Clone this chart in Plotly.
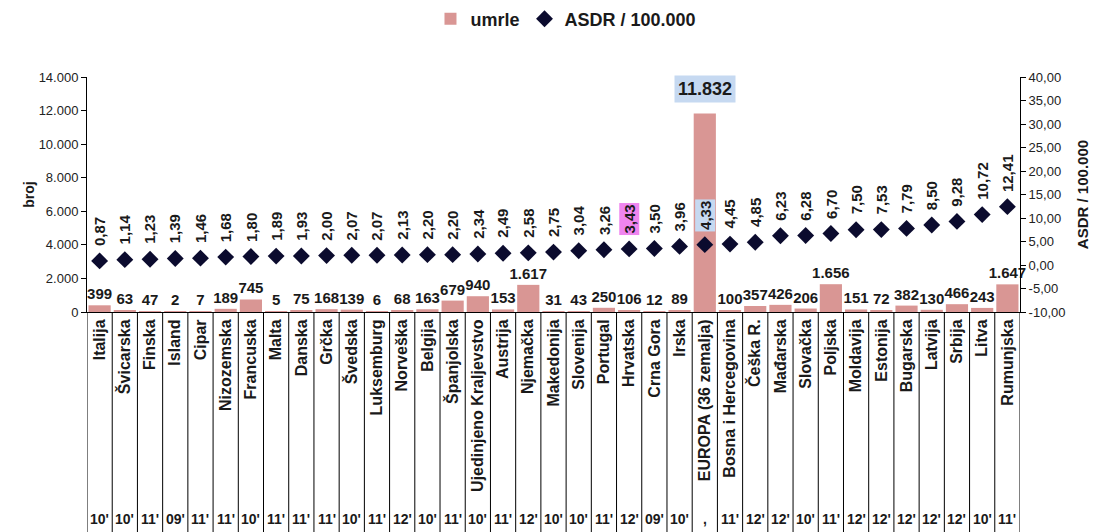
import plotly.graph_objects as go

countries = ["Italija", "Švicarska", "Finska", "Island", "Cipar", "Nizozemska", "Francuska",
             "Malta", "Danska", "Grčka", "Švedska", "Luksemburg", "Norveška", "Belgija",
             "Španjolska", "Ujedinjeno Kraljevstvo", "Austrija", "Njemačka", "Makedonija",
             "Slovenija", "Portugal", "Hrvatska", "Crna Gora", "Irska", "EUROPA (36 zemalja)",
             "Bosna i Hercegovina", "Češka R.", "Mađarska", "Slovačka", "Poljska", "Moldavija",
             "Estonija", "Bugarska", "Latvija", "Srbija", "Litva", "Rumunjska"]
umrle = [399, 63, 47, 2, 7, 189, 745, 5, 75, 168, 139, 6, 68, 163, 679, 940, 153, 1617, 31,
         43, 250, 106, 12, 89, 11832, 100, 357, 426, 206, 1656, 151, 72, 382, 130, 466, 243, 1647]
asdr = [0.87, 1.14, 1.23, 1.39, 1.46, 1.68, 1.80, 1.89, 1.93, 2.00, 2.07, 2.07, 2.13, 2.20,
        2.20, 2.34, 2.49, 2.58, 2.75, 3.04, 3.26, 3.43, 3.50, 3.96, 4.33, 4.45, 4.85, 6.23,
        6.28, 6.70, 7.50, 7.53, 7.79, 8.50, 9.28, 10.72, 12.41]
years = ["10'", "10'", "11'", "09'", "11'", "11'", "10'", "11'", "11'", "11'", "10'", "11'",
         "12'", "10'", "11'", "10'", "11'", "12'", "10'", "10'", "11'", "12'", "09'", "10'",
         ",", "11'", "12'", "12'", "10'", "11'", "12'", "12'", "12'", "12'", "12'", "10'", "11'"]
left_ticks = [0, 2000, 4000, 6000, 8000, 10000, 12000, 14000]
left_ticktext = ["0", "2.000", "4.000", "6.000", "8.000", "10.000", "12.000", "14.000"]
right_ticks = [-10, -5, 0, 5, 10, 15, 20, 25, 30, 35, 40]
right_ticktext = ["-10,00", "-5,00", "0,00", "5,00", "10,00", "15,00", "20,00", "25,00",
                  "30,00", "35,00", "40,00"]

FONT = "Liberation Sans, Arial, sans-serif"
BAR_COLOR = "#d99694"
DIAMOND_COLOR = "#0b0b2e"
HIGHLIGHT = {"Hrvatska": "#ef85ef", "EUROPA (36 zemalja)": "#c6d9f1"}
TOTAL_NAME = "EUROPA (36 zemalja)"

FIG_W, FIG_H = 1099, 532


def fmt_int(v):
    return f"{v:,}".replace(",", ".")


def fmt_dec(v):
    return f"{v:.2f}".replace(".", ",")


xs = list(range(len(countries)))
bar_text = ["" if c == TOTAL_NAME else fmt_int(v) for c, v in zip(countries, umrle)]

fig = go.Figure()
fig.add_trace(go.Bar(
    x=xs, y=umrle, name="umrle", marker=dict(color=BAR_COLOR, line=dict(width=0)),
    text=bar_text, textposition="outside", constraintext="none", cliponaxis=False,
    textfont=dict(family=FONT, size=15, color="#1a1a1a", weight="bold"),
    yaxis="y",
))
fig.add_trace(go.Scatter(
    x=xs, y=asdr, name="ASDR / 100.000", mode="markers",
    marker=dict(symbol="diamond", size=13, color=DIAMOND_COLOR),
    yaxis="y2",
))

annotations = []
for i, (c, v) in enumerate(zip(countries, asdr)):
    annotations.append(dict(
        x=i, y=v, xref="x", yref="y2", text=fmt_dec(v), textangle=-90,
        showarrow=False, yanchor="bottom", xanchor="center", yshift=13,
        font=dict(family=FONT, size=15, color="#1a1a1a", weight="bold"),
        bgcolor=HIGHLIGHT.get(c, "rgba(0,0,0,0)"), borderpad=1,
    ))
# total label
ti = countries.index(TOTAL_NAME)
annotations.append(dict(
    x=ti, y=umrle[ti], xref="x", yref="y", text=fmt_int(umrle[ti]), showarrow=False,
    yanchor="bottom", xanchor="center", yshift=10,
    font=dict(family=FONT, size=18, color="#1a1a1a", weight="bold"),
    bgcolor="#c6d9f1", borderpad=3,
))
# year row
for i, yr in enumerate(years):
    annotations.append(dict(
        x=i, y=-0.881, xref="x", yref="paper", text=yr, showarrow=False,
        yanchor="middle", xanchor="center",
        font=dict(family=FONT, size=14, color="#1a1a1a", weight="bold"),
    ))

shapes = []
for i in range(len(countries) + 1):
    shapes.append(dict(type="line", xref="x", yref="paper", x0=i - 0.5, x1=i - 0.5,
                       y0=0, y1=-0.94, line=dict(color="#000000", width=1)))

fig.update_layout(
    width=FIG_W, height=FIG_H,
    margin=dict(l=87, r=79, t=77, b=220, autoexpand=False),
    plot_bgcolor="white", paper_bgcolor="white",
    font=dict(family=FONT, color="#222222"),
    bargap=0.12,
    showlegend=True,
    legend=dict(orientation="h", xref="container", yref="container",
                x=0.515, xanchor="center", y=1 - 19 / FIG_H, yanchor="middle",
                font=dict(family=FONT, size=18, color="#1a1a1a", weight="bold"),
                itemwidth=30, bgcolor="rgba(0,0,0,0)"),
    xaxis=dict(
        tickmode="array", tickvals=xs, ticktext=countries, tickangle=-90,
        tickfont=dict(family=FONT, size=16, color="#1a1a1a", weight="bold"),
        showline=True, linecolor="black", linewidth=1, ticks="", showgrid=False,
        range=[-0.5, len(countries) - 0.5], zeroline=False, automargin=False,
    ),
    yaxis=dict(
        range=[0, 14000], tickmode="array", tickvals=left_ticks, ticktext=left_ticktext,
        showline=True, linecolor="black", linewidth=1, ticks="outside", ticklen=5,
        tickcolor="black", showgrid=False, zeroline=False, automargin=False,
        tickfont=dict(family=FONT, size=13, color="#222222"),
        title=dict(text="broj", standoff=0,
                   font=dict(family=FONT, size=14, color="#1a1a1a", weight="bold")),
    ),
    yaxis2=dict(
        range=[-10, 40], overlaying="y", side="right", tickmode="array",
        tickvals=right_ticks, ticktext=right_ticktext,
        showline=True, linecolor="black", linewidth=1, ticks="outside", ticklen=5,
        tickcolor="black", showgrid=False, zeroline=False, automargin=False,
        tickfont=dict(family=FONT, size=13, color="#222222"),
        title=dict(text="ASDR / 100.000", standoff=13,
                   font=dict(family=FONT, size=15, color="#1a1a1a", weight="bold")),
    ),
    annotations=annotations,
    shapes=shapes,
)

fig.write_html(
    "out.html",
    config={"displayModeBar": False},
    post_script="document.body.style.margin='0px';document.body.style.overflow='hidden';",
)
